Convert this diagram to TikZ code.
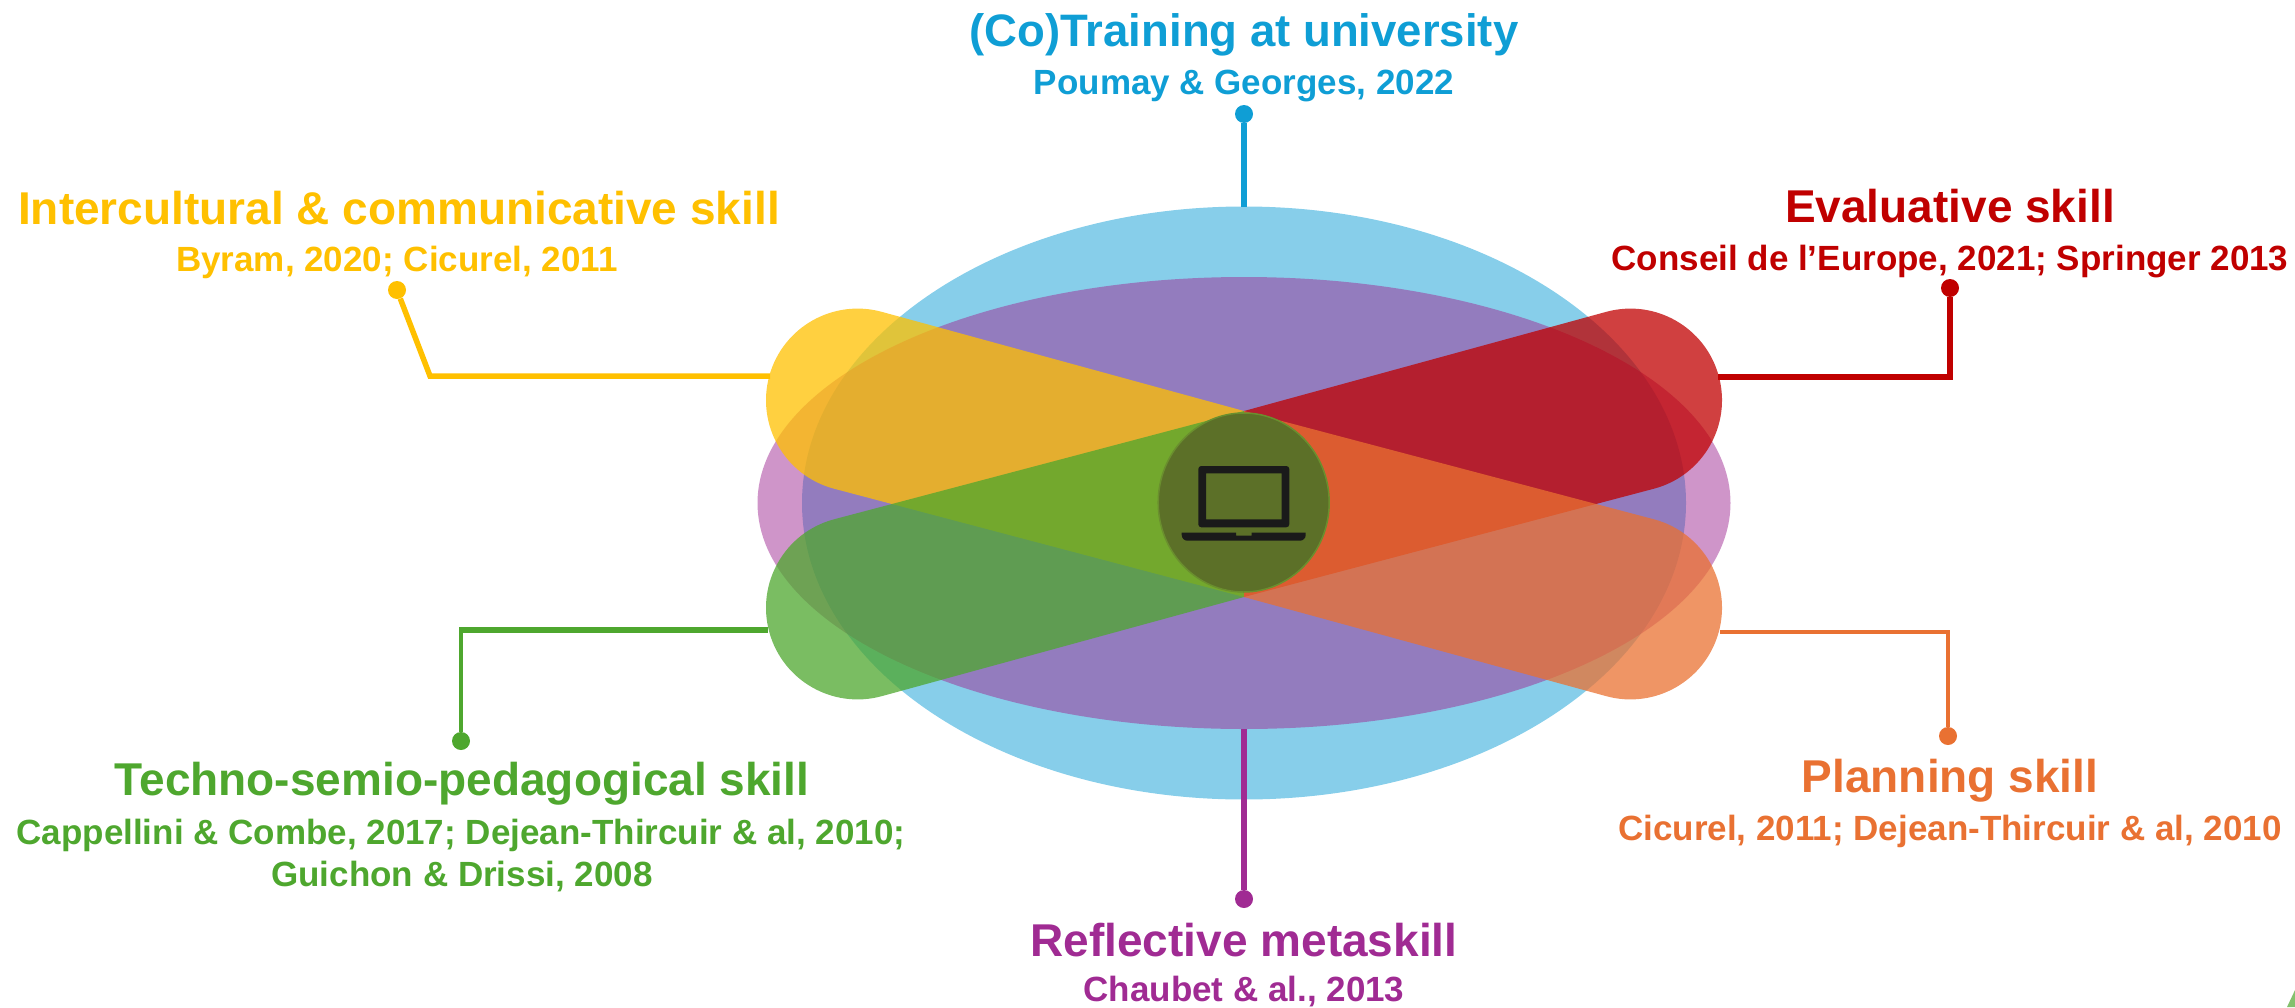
\documentclass[tikz,border=0pt]{standalone}
\usepackage{fontspec}
\setmainfont{Liberation Sans}
\definecolor{cblue}{HTML}{0F9ED5}
\definecolor{cpurple}{HTML}{A02B93}
\definecolor{cyellow}{HTML}{FFC000}
\definecolor{cred}{HTML}{C00000}
\definecolor{cgreen}{HTML}{4EA72E}
\definecolor{corange}{HTML}{E97132}
\definecolor{chub}{HTML}{5C7028}
\definecolor{chubline}{HTML}{6A8F2E}
\definecolor{cicon}{HTML}{1A1A1A}
\newcommand{\bandshape}{(0,-93) -- (-362.2,-192.15) arc[start angle=-74.68,delta angle=-180,radius=91.6] -- (0,93) -- cycle}
\tikzset{
  x=1pt,y=-1pt,
  headtext/.style={anchor=base,inner sep=0pt,font=\fontsize{46}{50}\bfseries},
  subtext/.style={anchor=base,inner sep=0pt,font=\fontsize{35}{40}\bfseries},
  dotmark/.style={circle,fill=#1,draw=none,inner sep=0pt,minimum size=18pt},
  wire/.style={draw=#1,line width=5.5pt,line join=miter},
  band/.style={fill=#1,fill opacity=.75,draw=none},
  blob/.style={fill=#1,fill opacity=.5,draw=none},
}
\begin{document}
\begin{tikzpicture}
\useasboundingbox (0,0) rectangle (2295,1007);
% ellipses
\path[blob=cblue] (1244,503) ellipse[x radius=442,y radius=296.5];
\path[blob=cpurple] (1244,503) ellipse[x radius=486.5,y radius=226];
% bands
\begin{scope}[shift={(1244,504)}]
  \path[band=cyellow] \bandshape;
  \begin{scope}[xscale=-1]\path[band=cred] \bandshape;\end{scope}
  \begin{scope}[yscale=-1]\path[band=cgreen] \bandshape;\end{scope}
  \begin{scope}[xscale=-1,yscale=-1]\path[band=corange] \bandshape;\end{scope}
\end{scope}
% hub
\path[fill=chub,draw=chubline,line width=1.5pt] (1243.7,502.5) ellipse[x radius=85.5,y radius=89.5];
% laptop icon
\fill[cicon,even odd rule,rounded corners=3pt] (1198.3,527.3) -- (1198.3,466) -- (1289.3,466) -- (1289.3,527.3) -- cycle
  [sharp corners] (1206,473.3) rectangle (1281.7,519.3);
\fill[cicon] (1181.7,532.7) -- (1236,532.7) -- (1236,535.7) -- (1251.7,535.7) -- (1251.7,532.7) -- (1305.7,532.7)
  -- (1305.7,535) arc[start angle=0,end angle=90,radius=5.7] -- (1187.4,540.7) arc[start angle=90,end angle=180,radius=5.7] -- cycle;
% top
\node[headtext,text=cblue,font=\fontsize{45.5}{50}\bfseries] (ttop) at (1244,46.5) {(Co)Training at university};
\node[subtext,text=cblue] (stop) at (1244,94.3) {Poumay \& Georges, 2022};
\node[dotmark=cblue] (dtop) at (1244,114) {};
\coordinate (etop) at (1244,207);
\draw[wire=cblue,line width=6pt] (dtop) -- (etop);
% yellow
\node[headtext,text=cyellow] (tyel) at (399,224) {Intercultural \& communicative skill};
\node[subtext,text=cyellow] (syel) at (397,271) {Byram, 2020; Cicurel, 2011};
\node[dotmark=cyellow] (dyel) at (397,290) {};
\coordinate (kyel) at (430,376);
\coordinate (eyel) at (770,376);
\draw[wire=cyellow] (dyel) -- (kyel) -- (eyel);
% red
\node[headtext,text=cred] (tred) at (1950,222) {Evaluative skill};
\node[subtext,text=cred] (sred) at (1950,270) {Conseil de l’Europe, 2021; Springer 2013};
\node[dotmark=cred] (dred) at (1950,288) {};
\coordinate (kred) at (1950,377);
\coordinate (ered) at (1718,377);
\draw[wire=cred] (dred) -- (kred) -- (ered);
% green
\node[headtext,text=cgreen] (tgre) at (462,795.7) {Techno-semio-pedagogical skill};
\node[subtext,text=cgreen] (sgre) at (461,844) {Cappellini \& Combe, 2017; Dejean-Thircuir \& al, 2010;};
\node[subtext,text=cgreen] (sgrb) at (462,886) {Guichon \& Drissi, 2008};
\node[dotmark=cgreen] (dgre) at (461,741) {};
\coordinate (kgre) at (461,630);
\coordinate (egre) at (768,630);
\draw[wire=cgreen,line width=4pt] (dgre) -- (kgre);
\draw[wire=cgreen,line width=6pt] (kgre) ++(-2,0) -- (egre);
% orange
\node[headtext,text=corange] (tora) at (1950,792) {Planning skill};
\node[subtext,text=corange] (sora) at (1950,840) {Cicurel, 2011; Dejean-Thircuir \& al, 2010};
\node[dotmark=corange] (dora) at (1948,736) {};
\coordinate (kora) at (1948,632);
\coordinate (eora) at (1720,632);
\draw[wire=corange,line width=4pt] (dora) -- (kora) -- (eora);
% purple
\node[headtext,text=cpurple] (tpur) at (1244,956) {Reflective metaskill};
\node[subtext,text=cpurple] (spur) at (1244,1001) {Chaubet \& al., 2013};
\node[dotmark=cpurple] (dpur) at (1244,899) {};
\coordinate (epur) at (1244,729);
\draw[wire=cpurple,line width=6pt] (dpur) -- (epur);
% corner sliver
\fill[cgreen!70] (2287,1007) -- (2295,990) -- (2295,1007) -- cycle;
\end{tikzpicture}
\end{document}
